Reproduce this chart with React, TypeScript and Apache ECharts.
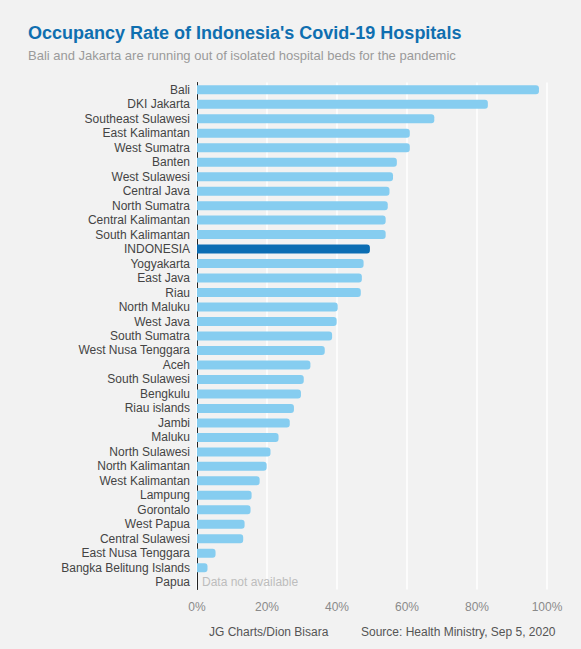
import React, { useEffect, useRef } from "react";
import * as echarts from "echarts";

const categories = [
  "Bali", "DKI Jakarta", "Southeast Sulawesi", "East Kalimantan", "West Sumatra",
  "Banten", "West Sulawesi", "Central Java", "North Sumatra", "Central Kalimantan",
  "South Kalimantan", "INDONESIA", "Yogyakarta", "East Java", "Riau",
  "North Maluku", "West Java", "South Sumatra", "West Nusa Tenggara", "Aceh",
  "South Sulawesi", "Bengkulu", "Riau islands", "Jambi", "Maluku",
  "North Sulawesi", "North Kalimantan", "West Kalimantan", "Lampung", "Gorontalo",
  "West Papua", "Central Sulawesi", "East Nusa Tenggara", "Bangka Belitung Islands", "Papua",
];

const occupancy: (number | null)[] = [
  97.7, 83.1, 67.8, 60.8, 60.8,
  57.1, 56.0, 55.0, 54.5, 53.9,
  53.9, 49.4, 47.6, 47.1, 46.8,
  40.2, 39.9, 38.6, 36.5, 32.4,
  30.5, 29.7, 27.7, 26.5, 23.3,
  21.0, 19.9, 17.9, 15.6, 15.3,
  13.6, 13.2, 5.3, 3.0, null,
];

const xTicks = [0, 20, 40, 60, 80, 100];

const FONT = "'Liberation Sans', Arial, sans-serif";

export default function App() {
  const ref = useRef<HTMLDivElement>(null);
  useEffect(() => {
    if (!ref.current) return;
    const chart = echarts.init(ref.current, undefined, { renderer: "svg" });
    const data = categories.map((c, i) => {
      const v = occupancy[i];
      if (v === null) {
        return {
          value: 0,
          label: {
            show: true,
            position: "right",
            distance: 5,
            formatter: "Data not available",
            color: "#bdbdbd",
            fontSize: 12,
            fontFamily: FONT,
          },
        };
      }
      return {
        value: v,
        itemStyle: { color: c === "INDONESIA" ? "#0b6db3" : "#86cdf0" },
      };
    });
    chart.setOption({
      animation: false,
      backgroundColor: "#f2f2f2",
      textStyle: { fontFamily: FONT },
      title: {
        text: "Occupancy Rate of Indonesia's Covid-19 Hospitals",
        subtext: "Bali and Jakarta are running out of isolated hospital beds for the pandemic",
        left: 23,
        top: 19,
        itemGap: 7,
        textStyle: { color: "#0f6fb0", fontSize: 18, fontWeight: "bold", fontFamily: FONT },
        subtextStyle: { color: "#9a9a9a", fontSize: 13, fontFamily: FONT },
      },
      grid: { left: 197, right: 34, top: 82.5, bottom: 59.5, containLabel: false },
      xAxis: {
        type: "value",
        min: xTicks[0],
        max: xTicks[xTicks.length - 1],
        interval: 20,
        axisLine: { show: false },
        axisTick: { show: false },
        axisLabel: {
          formatter: "{value}%",
          color: "#8a8a8a",
          fontSize: 12,
          margin: 11,
          fontFamily: FONT,
        },
        splitLine: { show: true, lineStyle: { color: "#ffffff", width: 1.5 } },
      },
      yAxis: {
        type: "category",
        data: categories,
        inverse: true,
        axisLine: { show: true, lineStyle: { color: "#222222", width: 1 } },
        axisTick: { show: false },
        axisLabel: { interval: 0, color: "#444444", fontSize: 12, margin: 7, fontFamily: FONT },
      },
      series: [
        {
          type: "bar",
          data,
          barWidth: 9,
          itemStyle: { borderRadius: [0, 3, 3, 0] },
        },
      ],
      graphic: [
        {
          type: "text",
          left: 209,
          top: 626,
          style: { text: "JG Charts/Dion Bisara", fill: "#555555", fontSize: 12, fontFamily: FONT },
        },
        {
          type: "text",
          left: 361,
          top: 626,
          style: {
            text: "Source: Health Ministry, Sep 5, 2020",
            fill: "#555555",
            fontSize: 12,
            fontFamily: FONT,
          },
        },
      ],
    });
    return () => chart.dispose();
  }, []);
  return (
    <div
      ref={ref}
      style={{ position: "fixed", left: 0, top: 0, width: 581, height: 649 }}
    />
  );
}
